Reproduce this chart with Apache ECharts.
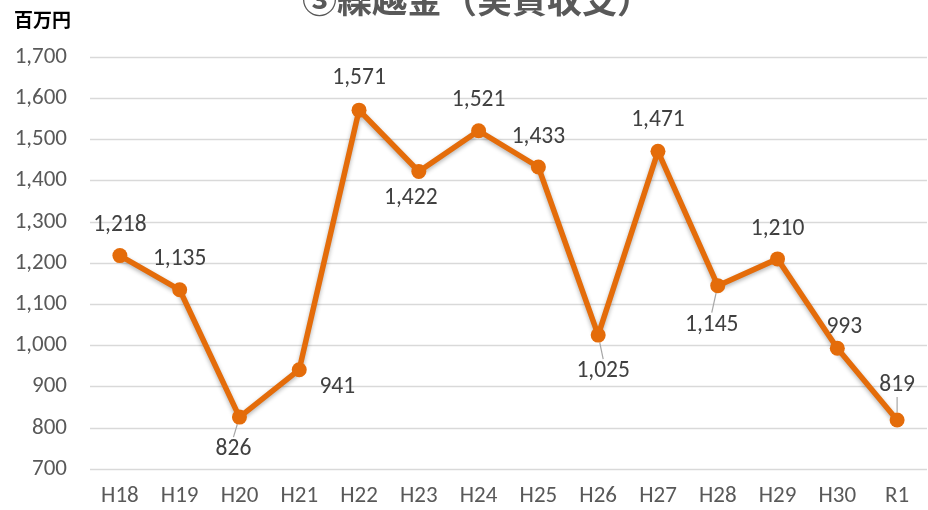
<!DOCTYPE html>
<html><head><meta charset="utf-8">
<script src="https://cdn.jsdelivr.net/npm/echarts@6/dist/echarts.min.js"></script>
<style>html,body{margin:0;padding:0;background:#fff}#c{width:928px;height:510px}</style>
</head><body><div id="c"></div>
<script>
const categories = ['H18','H19','H20','H21','H22','H23','H24','H25','H26','H27','H28','H29','H30','R1'];
const values = [1218,1135,826,941,1571,1422,1521,1433,1025,1471,1145,1210,993,819];
const yTicks = {min:700, max:1700, interval:100};
// label offsets (style): [dx, dy, showLeader]
const labelOffsets = [[0,-30,0],[0,-31,0],[-6,32,1],[38,17,0],[0,-32,0],[-8,27,0],[0,-31,0],[0,-30,0],[5,36,1],[0,-31,0],[-6,39,1],[0,-30,0],[7,-21,0],[0,-35,1]];

const chart = echarts.init(document.getElementById('c'));
const fontFam = 'Carlito, "Open Sans", "Noto Sans", sans-serif';
chart.setOption({
  animation:false,
  title:{text:'③繰越金（実質収支）', left:472, textAlign:'center', top:-23,
    textStyle:{fontFamily:'"Noto Sans CJK JP"', fontSize:35, fontWeight:'bold', color:'#595959'}},
  graphic:[{type:'text', left:14, top:10, style:{text:'百万円', font:'bold 19px "Noto Sans CJK JP"', fill:'#000'}}],
  grid:{left:90, right:1, top:57, bottom:41},
  xAxis:{type:'category', data:categories, boundaryGap:true,
    axisLine:{show:false}, axisTick:{show:false},
    axisLabel:{color:'#595959', fontSize:23, fontFamily:fontFam, margin:16}},
  yAxis:{type:'value', min:yTicks.min, max:yTicks.max, interval:yTicks.interval,
    axisLine:{show:false}, axisTick:{show:false},
    axisLabel:{color:'#595959', fontSize:23, fontFamily:fontFam, margin:23,
      formatter:v=>v.toLocaleString('en-US')},
    splitLine:{lineStyle:{color:'#d9d9d9', width:1.3}}},
  series:[{type:'line',
    data:values.map((v,i)=>({value:v, labelLine:{show:labelOffsets[i][2]===1}})),
    symbol:'circle', symbolSize:15,
    lineStyle:{color:'#E46C0A', width:5.5, shadowColor:'rgba(0,0,0,0.3)', shadowBlur:4, shadowOffsetY:2},
    itemStyle:{color:'#E46C0A'},
    label:{show:true, position:'inside', color:'#404040', fontSize:23.5, fontFamily:fontFam,
      formatter:p=>p.value.toLocaleString('en-US')},
    labelLine:{show:false, lineStyle:{color:'#a6a6a6', width:1.2}, length2:0},
    labelLayout:function(p){
      const o = labelOffsets[p.dataIndex];
      return {dx:o[0], dy:o[1]};
    }
  }]
});
</script></body></html>
